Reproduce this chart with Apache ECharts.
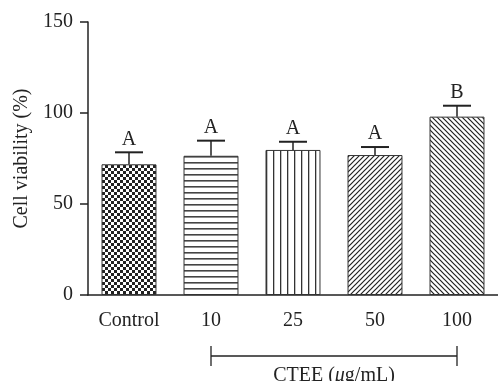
<!DOCTYPE html>
<html>
<head>
<meta charset="utf-8">
<script src="https://cdn.jsdelivr.net/npm/echarts@6/dist/echarts.min.js"></script>
<style>
  html, body { margin: 0; padding: 0; background: #fff; }
  #chart { width: 498px; height: 381px; }
</style>
</head>
<body>
<div id="chart"></div>
<script>
var categories = ['Control', '10', '25', '50', '100'];
var means = [71.8, 76.5, 79.7, 76.9, 98.0];
var upper = [78.4, 84.8, 84.2, 81.3, 104.0];
var letters = ['A', 'A', 'A', 'A', 'B'];
var yTicks = [0, 50, 100, 150];
var bracketRange = [1, 4];
var bracketLabel = 'CTEE';

var ink = '#222';
var font = '"Liberation Serif", "DejaVu Serif", serif';
var fs = 20;

// small canvas tiles used as bar fills
function tile(w, h, draw) {
  var c = document.createElement('canvas');
  c.width = w; c.height = h;
  var g = c.getContext('2d');
  g.fillStyle = '#fff';
  g.fillRect(0, 0, w, h);
  g.fillStyle = ink; g.strokeStyle = ink;
  draw(g, w, h);
  return { image: c, repeat: 'repeat' };
}
var fills = [
  tile(6, 6, function(g) { g.fillRect(0, 0, 3, 3); g.fillRect(3, 3, 3, 3); }),
  tile(6, 6, function(g) { g.fillStyle = '#444'; g.fillRect(0, 0, 6, 1.6); }),
  tile(7, 6, function(g) { g.fillStyle = '#333'; g.fillRect(0, 0, 1.3, 6); }),
  tile(5, 5, function(g, w, h) {
    g.lineWidth = 1.2;
    g.beginPath();
    g.moveTo(0, h); g.lineTo(w, 0);
    g.moveTo(-1, 1); g.lineTo(1, -1);
    g.moveTo(w - 1, h + 1); g.lineTo(w + 1, h - 1);
    g.stroke();
  }),
  tile(5, 5, function(g, w, h) {
    g.lineWidth = 1.2;
    g.beginPath();
    g.moveTo(0, 0); g.lineTo(w, h);
    g.moveTo(w - 1, -1); g.lineTo(w + 1, 1);
    g.moveTo(-1, h - 1); g.lineTo(1, h + 1);
    g.stroke();
  })
];

var barData = means.map(function(v, i) {
  return { value: v, itemStyle: { color: fills[i] } };
});
var errData = means.map(function(v, i) { return [i, v, upper[i]]; });

var chart = echarts.init(document.getElementById('chart'));
chart.setOption({
  animation: false,
  grid: { left: 88, right: -1, top: 22, bottom: 86 },
  xAxis: {
    type: 'category',
    data: categories,
    axisLine: { lineStyle: { color: ink, width: 1.5 } },
    axisTick: { alignWithLabel: true, length: 6, lineStyle: { color: ink, width: 1.5 } },
    axisLabel: { color: ink, fontFamily: font, fontSize: fs, margin: 16 }
  },
  yAxis: {
    type: 'value',
    min: yTicks[0],
    max: yTicks[yTicks.length - 1],
    interval: 50,
    name: 'Cell viability (%)',
    nameLocation: 'middle',
    nameGap: 55,
    nameTextStyle: { color: ink, fontFamily: font, fontSize: fs },
    axisLine: { show: true, lineStyle: { color: ink, width: 1.5 } },
    axisTick: { show: true, length: 8, lineStyle: { color: ink, width: 1.5 } },
    axisLabel: { color: ink, fontFamily: font, fontSize: fs, margin: 15 },
    splitLine: { show: false }
  },
  series: [
    {
      type: 'bar',
      data: barData,
      barWidth: '67%',
      itemStyle: { borderColor: '#333', borderWidth: 1 }
    },
    {
      type: 'custom',
      data: errData,
      clip: false,
      z: 5,
      renderItem: function(params, api) {
        var lo = api.coord([api.value(0), api.value(1)]);
        var hi = api.coord([api.value(0), api.value(2)]);
        var lw = { stroke: ink, lineWidth: 1.5 };
        return {
          type: 'group',
          children: [
            { type: 'line', shape: { x1: lo[0], y1: lo[1], x2: hi[0], y2: hi[1] }, style: lw },
            { type: 'line', shape: { x1: hi[0] - 14, y1: hi[1], x2: hi[0] + 14, y2: hi[1] }, style: { stroke: ink, lineWidth: 2 } },
            { type: 'text', x: hi[0], y: hi[1] - 3, style: {
              text: letters[params.dataIndex], fill: ink, font: fs + 'px ' + font,
              align: 'center', verticalAlign: 'bottom' } }
          ]
        };
      }
    },
    {
      type: 'custom',
      data: [bracketRange],
      clip: false,
      z: 5,
      renderItem: function(params, api) {
        var a = api.coord([api.value(0), 0]);
        var b = api.coord([api.value(1), 0]);
        var y = a[1] + 61;
        var lw = { stroke: ink, lineWidth: 1.3 };
        return {
          type: 'group',
          children: [
            { type: 'line', shape: { x1: a[0], y1: y, x2: b[0], y2: y }, style: lw },
            { type: 'line', shape: { x1: a[0], y1: y - 10, x2: a[0], y2: y + 10 }, style: lw },
            { type: 'line', shape: { x1: b[0], y1: y - 10, x2: b[0], y2: y + 10 }, style: lw },
            { type: 'text', x: (a[0] + b[0]) / 2, y: y + 10, style: {
              text: '{n|' + bracketLabel + ' (}{i|μ}{n|g/mL)}',
              align: 'center', verticalAlign: 'top',
              rich: {
                n: { fill: ink, fontFamily: font, fontSize: fs },
                i: { fill: ink, fontFamily: font, fontSize: fs, fontStyle: 'italic' }
              } } }
          ]
        };
      }
    }
  ]
});
window.addEventListener('resize', function() { chart.resize(); });
</script>
</body>
</html>
